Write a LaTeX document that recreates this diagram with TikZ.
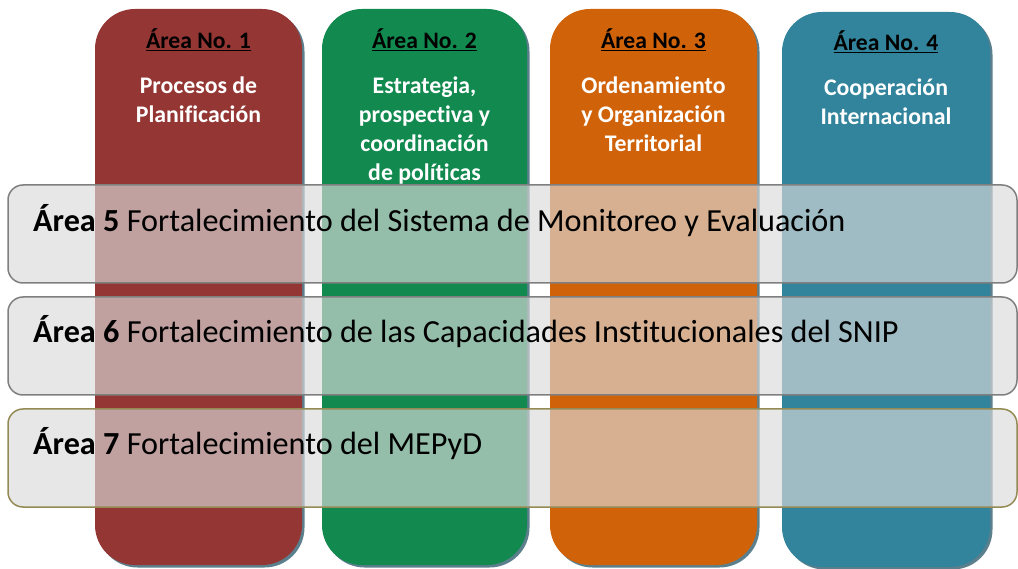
\documentclass[tikz,border=0pt]{standalone}
\usepackage{fontspec}
\setmainfont{Carlito}[Ligatures=NoCommon]
\usepackage{tikz}
\usetikzlibrary{positioning,shadows}

\definecolor{areared}{HTML}{943634}
\definecolor{areagreen}{HTML}{128A4F}
\definecolor{areaorange}{HTML}{D0630A}
\definecolor{areateal}{HTML}{31849B}
\definecolor{shadowblue}{HTML}{5B7F8C}
\definecolor{barfill}{HTML}{DADADA}
\definecolor{barline}{HTML}{7F7F7F}
\definecolor{oliveline}{HTML}{948A54}

\tikzset{
  areacol/.style={rectangle, rounded corners=40pt, minimum width=207pt, minimum height=556pt, inner sep=0pt,
    drop shadow={shadow xshift=2.5pt, shadow yshift=-2.5pt, fill=shadowblue, opacity=1}},
  areahead/.style={font=\fontsize{23.6}{28}\selectfont\bfseries, text=black, inner sep=0pt},
  areabody/.style={font=\fontsize{23.8}{29}\selectfont\bfseries, text=white, align=center, inner sep=0pt},
  areabar/.style={rectangle, rounded corners=15pt, draw=barline, line width=1.5pt, fill=barfill, fill opacity=0.65,
    minimum width=1009pt, minimum height=98pt},
  bartext/.style={font=\fontsize{32.2}{38}\selectfont, anchor=base west, inner sep=0pt}
}

\begin{document}
\begin{tikzpicture}[x=1pt, y=-1pt]
\useasboundingbox (0,0) rectangle (1018,569);

% vertical areas
\node (col1) [areacol, fill=areared] at (198.5,287) {};
\node (col2) [areacol, fill=areagreen, minimum width=205pt] at (424.5,287) {};
\node (col3) [areacol, fill=areaorange] at (653.5,287) {};
\node (col4) [areacol, fill=areateal, minimum width=208pt, minimum height=555pt] at (886,289.5) {};

\node (head1) [areahead, anchor=base] at (198.5,49) {\underline{Área No. 1}};
\node (head2) [areahead, anchor=base] at (424.5,49) {\underline{Área No. 2}};
\node (head3) [areahead, anchor=base] at (653.5,49) {\underline{Área No. 3}};
\node (head4) [areahead, anchor=base] at (886,51) {\underline{Área No. 4}};

% base anchor = last line
\node (body1) [areabody, anchor=base] at (198.5,123) {Procesos de\\Planificación};
\node (body2) [areabody, anchor=base] at (424.5,181) {Estrategia,\\prospectiva y\\coordinación\\de políticas};
\node (body3) [areabody, anchor=base] at (653.5,152) {Ordenamiento\\y Organización\\Territorial};
\node (body4) [areabody, anchor=base] at (886,125) {Cooperación\\Internacional};

% horizontal areas
\node (bar5) [areabar] at (512.5,234) {};
\node (bar6) [areabar] at (512.5,346) {};
\node (bar7) [areabar, draw=oliveline] at (512.5,458) {};

\node (txt5) [bartext] at (33,232) {\textbf{Área 5} Fortalecimiento del Sistema de Monitoreo y Evaluación};
\node (txt6) [bartext] at (33,343) {\textbf{Área 6} Fortalecimiento de las Capacidades Institucionales del SNIP};
\node (txt7) [bartext] at (33,454) {\textbf{Área 7} Fortalecimiento del MEPyD};
\end{tikzpicture}
\end{document}
